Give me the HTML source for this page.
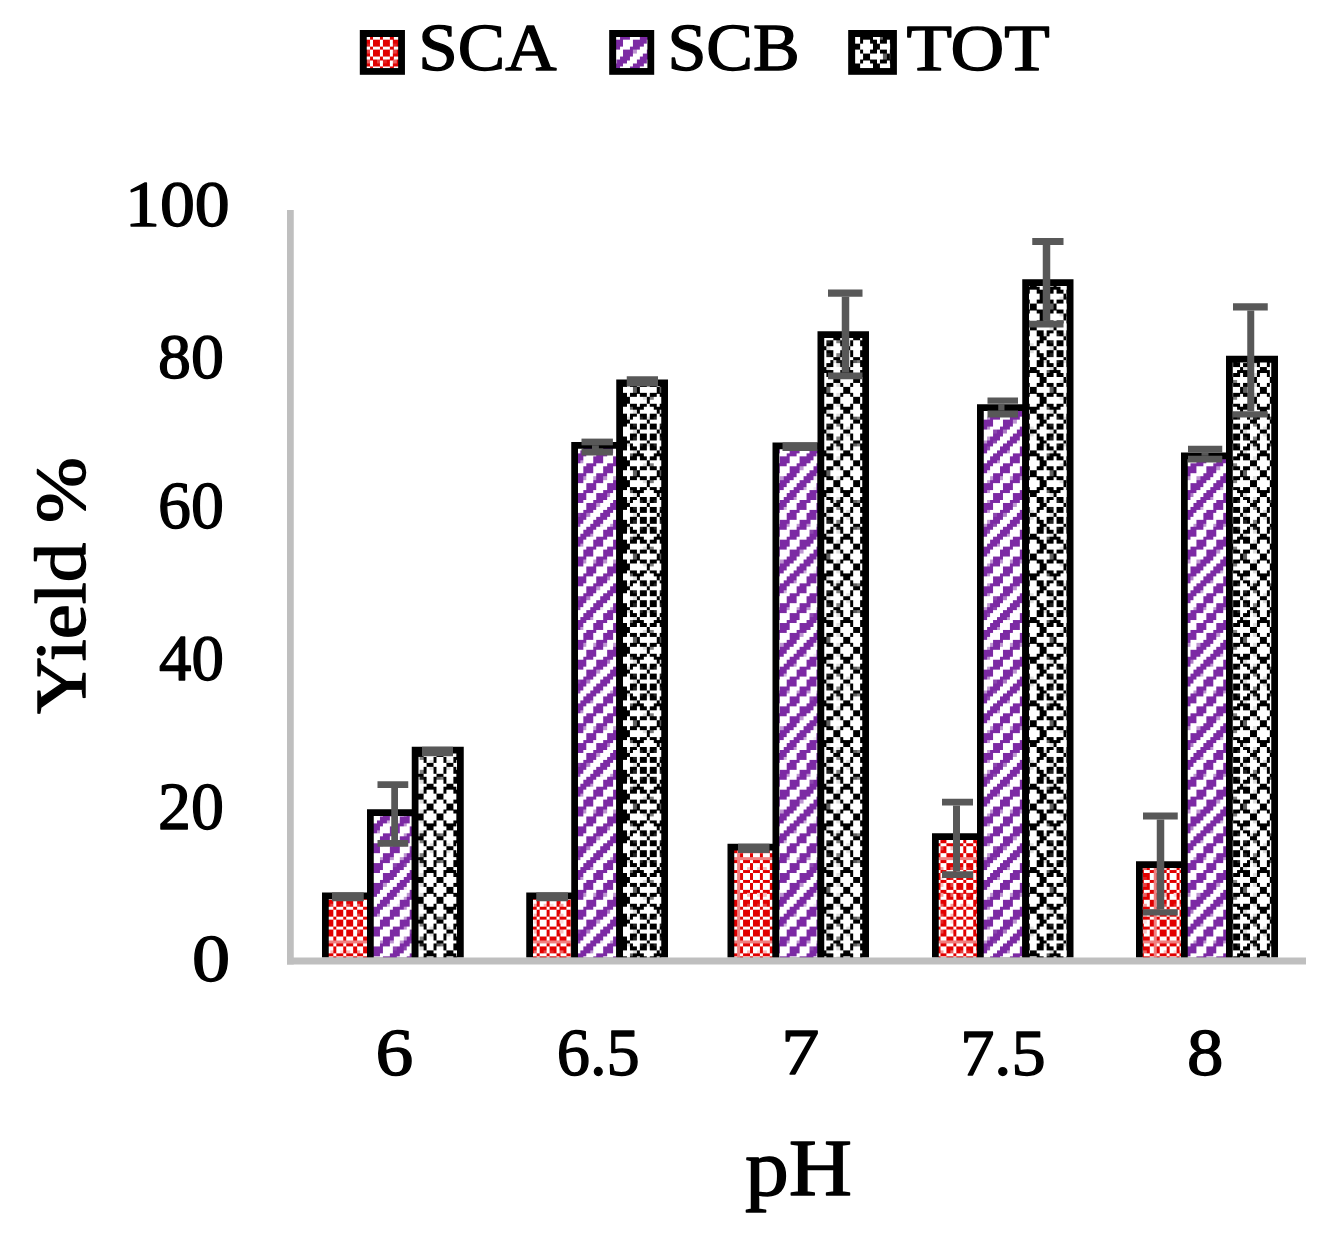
<!DOCTYPE html>
<html><head><meta charset="utf-8"><title>Yield vs pH</title>
<style>
html,body{margin:0;padding:0;background:#fff;}
body{width:1341px;height:1240px;overflow:hidden;font-family:"Liberation Serif",serif;}
svg{display:block;}
text{font-family:"Liberation Serif",serif;fill:#000;stroke:#000;stroke-width:1.35px;stroke-linejoin:round;}
</style></head><body>
<svg width="1341" height="1240" viewBox="0 0 1341 1240">
<defs>
<pattern id="pr" patternUnits="userSpaceOnUse" x="0" y="0" width="83.3333" height="83.3333">
<rect width="83.3333" height="83.3333" fill="#fff"/>
<g shape-rendering="crispEdges">
<rect x="0.00" y="0.00" width="3.38" height="3.38" fill="#e10000"/>
<rect x="10.00" y="0.00" width="3.38" height="3.38" fill="#e10000"/>
<rect x="20.00" y="0.00" width="3.38" height="3.38" fill="#e10000"/>
<rect x="30.00" y="0.00" width="6.72" height="3.38" fill="#e10000"/>
<rect x="40.00" y="0.00" width="6.72" height="3.38" fill="#e10000"/>
<rect x="50.00" y="0.00" width="6.72" height="3.38" fill="#e10000"/>
<rect x="60.00" y="0.00" width="6.72" height="3.38" fill="#e10000"/>
<rect x="70.00" y="0.00" width="3.38" height="3.38" fill="#f08080"/>
<rect x="73.33" y="0.00" width="3.38" height="3.38" fill="#e10000"/>
<rect x="3.33" y="3.33" width="6.72" height="3.38" fill="#e10000"/>
<rect x="13.33" y="3.33" width="6.72" height="3.38" fill="#e10000"/>
<rect x="23.33" y="3.33" width="3.38" height="3.38" fill="#e52020"/>
<rect x="26.67" y="3.33" width="3.38" height="3.38" fill="#e10000"/>
<rect x="33.33" y="3.33" width="3.38" height="3.38" fill="#fbdfdf"/>
<rect x="36.67" y="3.33" width="3.38" height="3.38" fill="#e10000"/>
<rect x="46.67" y="3.33" width="3.38" height="3.38" fill="#e10000"/>
<rect x="56.67" y="3.33" width="3.38" height="3.38" fill="#e10000"/>
<rect x="60.00" y="3.33" width="3.38" height="3.38" fill="#fbdfdf"/>
<rect x="66.67" y="3.33" width="3.38" height="3.38" fill="#e10000"/>
<rect x="70.00" y="3.33" width="3.38" height="3.38" fill="#f08080"/>
<rect x="76.67" y="3.33" width="6.72" height="3.38" fill="#e10000"/>
<rect x="3.33" y="6.67" width="6.72" height="3.38" fill="#e10000"/>
<rect x="13.33" y="6.67" width="6.72" height="3.38" fill="#e10000"/>
<rect x="23.33" y="6.67" width="6.72" height="3.38" fill="#e10000"/>
<rect x="36.67" y="6.67" width="3.38" height="3.38" fill="#e10000"/>
<rect x="46.67" y="6.67" width="3.38" height="3.38" fill="#e10000"/>
<rect x="56.67" y="6.67" width="3.38" height="3.38" fill="#e10000"/>
<rect x="66.67" y="6.67" width="3.38" height="3.38" fill="#e10000"/>
<rect x="70.00" y="6.67" width="3.38" height="3.38" fill="#f08080"/>
<rect x="76.67" y="6.67" width="6.72" height="3.38" fill="#e10000"/>
<rect x="0.00" y="10.00" width="3.38" height="3.38" fill="#e10000"/>
<rect x="10.00" y="10.00" width="3.38" height="3.38" fill="#e10000"/>
<rect x="20.00" y="10.00" width="3.38" height="3.38" fill="#e10000"/>
<rect x="30.00" y="10.00" width="6.72" height="3.38" fill="#e10000"/>
<rect x="40.00" y="10.00" width="6.72" height="3.38" fill="#e10000"/>
<rect x="50.00" y="10.00" width="6.72" height="3.38" fill="#e10000"/>
<rect x="60.00" y="10.00" width="6.72" height="3.38" fill="#e10000"/>
<rect x="70.00" y="10.00" width="3.38" height="3.38" fill="#f08080"/>
<rect x="73.33" y="10.00" width="3.38" height="3.38" fill="#e10000"/>
<rect x="3.33" y="13.33" width="6.72" height="3.38" fill="#e10000"/>
<rect x="13.33" y="13.33" width="6.72" height="3.38" fill="#e10000"/>
<rect x="23.33" y="13.33" width="3.38" height="3.38" fill="#e84040"/>
<rect x="26.67" y="13.33" width="3.38" height="3.38" fill="#e10000"/>
<rect x="33.33" y="13.33" width="3.38" height="3.38" fill="#f8bfbf"/>
<rect x="36.67" y="13.33" width="3.38" height="3.38" fill="#e10000"/>
<rect x="46.67" y="13.33" width="3.38" height="3.38" fill="#e10000"/>
<rect x="56.67" y="13.33" width="3.38" height="3.38" fill="#e10000"/>
<rect x="60.00" y="13.33" width="3.38" height="3.38" fill="#f8bfbf"/>
<rect x="66.67" y="13.33" width="3.38" height="3.38" fill="#e10000"/>
<rect x="70.00" y="13.33" width="3.38" height="3.38" fill="#f08080"/>
<rect x="76.67" y="13.33" width="6.72" height="3.38" fill="#e10000"/>
<rect x="3.33" y="16.67" width="6.72" height="3.38" fill="#e10000"/>
<rect x="13.33" y="16.67" width="6.72" height="3.38" fill="#e10000"/>
<rect x="23.33" y="16.67" width="6.72" height="3.38" fill="#e10000"/>
<rect x="36.67" y="16.67" width="3.38" height="3.38" fill="#e10000"/>
<rect x="46.67" y="16.67" width="3.38" height="3.38" fill="#e10000"/>
<rect x="56.67" y="16.67" width="3.38" height="3.38" fill="#e10000"/>
<rect x="66.67" y="16.67" width="3.38" height="3.38" fill="#e10000"/>
<rect x="70.00" y="16.67" width="3.38" height="3.38" fill="#f08080"/>
<rect x="76.67" y="16.67" width="6.72" height="3.38" fill="#e10000"/>
<rect x="0.00" y="20.00" width="3.38" height="3.38" fill="#e10000"/>
<rect x="10.00" y="20.00" width="3.38" height="3.38" fill="#e10000"/>
<rect x="20.00" y="20.00" width="3.38" height="3.38" fill="#e10000"/>
<rect x="30.00" y="20.00" width="6.72" height="3.38" fill="#e10000"/>
<rect x="40.00" y="20.00" width="6.72" height="3.38" fill="#e10000"/>
<rect x="50.00" y="20.00" width="6.72" height="3.38" fill="#e10000"/>
<rect x="60.00" y="20.00" width="6.72" height="3.38" fill="#e10000"/>
<rect x="70.00" y="20.00" width="3.38" height="3.38" fill="#f08080"/>
<rect x="73.33" y="20.00" width="3.38" height="3.38" fill="#e10000"/>
<rect x="0.00" y="23.33" width="83.38" height="3.38" fill="#f08080"/>
<rect x="3.33" y="26.67" width="6.72" height="3.38" fill="#e10000"/>
<rect x="13.33" y="26.67" width="6.72" height="3.38" fill="#e10000"/>
<rect x="23.33" y="26.67" width="6.72" height="3.38" fill="#e10000"/>
<rect x="36.67" y="26.67" width="3.38" height="3.38" fill="#e10000"/>
<rect x="46.67" y="26.67" width="3.38" height="3.38" fill="#e10000"/>
<rect x="56.67" y="26.67" width="3.38" height="3.38" fill="#e10000"/>
<rect x="66.67" y="26.67" width="3.38" height="3.38" fill="#e10000"/>
<rect x="70.00" y="26.67" width="3.38" height="3.38" fill="#f08080"/>
<rect x="76.67" y="26.67" width="6.72" height="3.38" fill="#e10000"/>
<rect x="0.00" y="30.00" width="3.38" height="3.38" fill="#e10000"/>
<rect x="10.00" y="30.00" width="3.38" height="3.38" fill="#e10000"/>
<rect x="20.00" y="30.00" width="3.38" height="3.38" fill="#e10000"/>
<rect x="30.00" y="30.00" width="6.72" height="3.38" fill="#e10000"/>
<rect x="40.00" y="30.00" width="6.72" height="3.38" fill="#e10000"/>
<rect x="50.00" y="30.00" width="6.72" height="3.38" fill="#e10000"/>
<rect x="60.00" y="30.00" width="6.72" height="3.38" fill="#e10000"/>
<rect x="70.00" y="30.00" width="3.38" height="3.38" fill="#f08080"/>
<rect x="73.33" y="30.00" width="3.38" height="3.38" fill="#e10000"/>
<rect x="0.00" y="33.33" width="3.38" height="3.38" fill="#e10000"/>
<rect x="6.67" y="33.33" width="3.38" height="3.38" fill="#fbdfdf"/>
<rect x="10.00" y="33.33" width="3.38" height="3.38" fill="#e10000"/>
<rect x="13.33" y="33.33" width="3.38" height="3.38" fill="#f8bfbf"/>
<rect x="20.00" y="33.33" width="3.38" height="3.38" fill="#e10000"/>
<rect x="23.33" y="33.33" width="3.38" height="3.38" fill="#f49f9f"/>
<rect x="30.00" y="33.33" width="3.38" height="3.38" fill="#e10000"/>
<rect x="33.33" y="33.33" width="3.38" height="3.38" fill="#ec6060"/>
<rect x="40.00" y="33.33" width="3.38" height="3.38" fill="#e10000"/>
<rect x="43.33" y="33.33" width="3.38" height="3.38" fill="#e84040"/>
<rect x="50.00" y="33.33" width="3.38" height="3.38" fill="#e52020"/>
<rect x="53.33" y="33.33" width="3.38" height="3.38" fill="#e10000"/>
<rect x="60.00" y="33.33" width="3.38" height="3.38" fill="#ec6060"/>
<rect x="63.33" y="33.33" width="3.38" height="3.38" fill="#e10000"/>
<rect x="70.00" y="33.33" width="3.38" height="3.38" fill="#f08080"/>
<rect x="73.33" y="33.33" width="3.38" height="3.38" fill="#e10000"/>
<rect x="80.00" y="33.33" width="3.38" height="3.38" fill="#f8bfbf"/>
<rect x="3.33" y="36.67" width="6.72" height="3.38" fill="#e10000"/>
<rect x="13.33" y="36.67" width="6.72" height="3.38" fill="#e10000"/>
<rect x="23.33" y="36.67" width="6.72" height="3.38" fill="#e10000"/>
<rect x="36.67" y="36.67" width="3.38" height="3.38" fill="#e10000"/>
<rect x="46.67" y="36.67" width="3.38" height="3.38" fill="#e10000"/>
<rect x="56.67" y="36.67" width="3.38" height="3.38" fill="#e10000"/>
<rect x="66.67" y="36.67" width="3.38" height="3.38" fill="#e10000"/>
<rect x="70.00" y="36.67" width="3.38" height="3.38" fill="#f08080"/>
<rect x="76.67" y="36.67" width="6.72" height="3.38" fill="#e10000"/>
<rect x="0.00" y="40.00" width="3.38" height="3.38" fill="#e10000"/>
<rect x="10.00" y="40.00" width="3.38" height="3.38" fill="#e10000"/>
<rect x="20.00" y="40.00" width="3.38" height="3.38" fill="#e10000"/>
<rect x="30.00" y="40.00" width="6.72" height="3.38" fill="#e10000"/>
<rect x="40.00" y="40.00" width="6.72" height="3.38" fill="#e10000"/>
<rect x="50.00" y="40.00" width="6.72" height="3.38" fill="#e10000"/>
<rect x="60.00" y="40.00" width="6.72" height="3.38" fill="#e10000"/>
<rect x="70.00" y="40.00" width="3.38" height="3.38" fill="#f08080"/>
<rect x="73.33" y="40.00" width="3.38" height="3.38" fill="#e10000"/>
<rect x="0.00" y="43.33" width="3.38" height="3.38" fill="#e10000"/>
<rect x="10.00" y="43.33" width="3.38" height="3.38" fill="#e10000"/>
<rect x="20.00" y="43.33" width="3.38" height="3.38" fill="#e10000"/>
<rect x="23.33" y="43.33" width="3.38" height="3.38" fill="#fbdfdf"/>
<rect x="30.00" y="43.33" width="3.38" height="3.38" fill="#e10000"/>
<rect x="33.33" y="43.33" width="3.38" height="3.38" fill="#e52020"/>
<rect x="40.00" y="43.33" width="6.72" height="3.38" fill="#e10000"/>
<rect x="50.00" y="43.33" width="6.72" height="3.38" fill="#e10000"/>
<rect x="60.00" y="43.33" width="3.38" height="3.38" fill="#e52020"/>
<rect x="63.33" y="43.33" width="3.38" height="3.38" fill="#e10000"/>
<rect x="70.00" y="43.33" width="3.38" height="3.38" fill="#f08080"/>
<rect x="73.33" y="43.33" width="3.38" height="3.38" fill="#e10000"/>
<rect x="3.33" y="46.67" width="6.72" height="3.38" fill="#e10000"/>
<rect x="13.33" y="46.67" width="6.72" height="3.38" fill="#e10000"/>
<rect x="23.33" y="46.67" width="6.72" height="3.38" fill="#e10000"/>
<rect x="36.67" y="46.67" width="3.38" height="3.38" fill="#e10000"/>
<rect x="46.67" y="46.67" width="3.38" height="3.38" fill="#e10000"/>
<rect x="56.67" y="46.67" width="3.38" height="3.38" fill="#e10000"/>
<rect x="66.67" y="46.67" width="3.38" height="3.38" fill="#e10000"/>
<rect x="70.00" y="46.67" width="3.38" height="3.38" fill="#f08080"/>
<rect x="76.67" y="46.67" width="6.72" height="3.38" fill="#e10000"/>
<rect x="0.00" y="50.00" width="3.38" height="3.38" fill="#e10000"/>
<rect x="10.00" y="50.00" width="3.38" height="3.38" fill="#e10000"/>
<rect x="20.00" y="50.00" width="3.38" height="3.38" fill="#e10000"/>
<rect x="23.33" y="50.00" width="3.38" height="3.38" fill="#f8bfbf"/>
<rect x="30.00" y="50.00" width="3.38" height="3.38" fill="#e10000"/>
<rect x="33.33" y="50.00" width="3.38" height="3.38" fill="#e84040"/>
<rect x="40.00" y="50.00" width="6.72" height="3.38" fill="#e10000"/>
<rect x="50.00" y="50.00" width="6.72" height="3.38" fill="#e10000"/>
<rect x="60.00" y="50.00" width="3.38" height="3.38" fill="#e84040"/>
<rect x="63.33" y="50.00" width="3.38" height="3.38" fill="#e10000"/>
<rect x="70.00" y="50.00" width="3.38" height="3.38" fill="#f08080"/>
<rect x="73.33" y="50.00" width="3.38" height="3.38" fill="#e10000"/>
<rect x="0.00" y="53.33" width="3.38" height="3.38" fill="#e10000"/>
<rect x="10.00" y="53.33" width="3.38" height="3.38" fill="#e10000"/>
<rect x="20.00" y="53.33" width="3.38" height="3.38" fill="#e10000"/>
<rect x="30.00" y="53.33" width="6.72" height="3.38" fill="#e10000"/>
<rect x="40.00" y="53.33" width="6.72" height="3.38" fill="#e10000"/>
<rect x="50.00" y="53.33" width="6.72" height="3.38" fill="#e10000"/>
<rect x="60.00" y="53.33" width="6.72" height="3.38" fill="#e10000"/>
<rect x="70.00" y="53.33" width="3.38" height="3.38" fill="#f08080"/>
<rect x="73.33" y="53.33" width="3.38" height="3.38" fill="#e10000"/>
<rect x="3.33" y="56.67" width="6.72" height="3.38" fill="#e10000"/>
<rect x="13.33" y="56.67" width="6.72" height="3.38" fill="#e10000"/>
<rect x="23.33" y="56.67" width="6.72" height="3.38" fill="#e10000"/>
<rect x="36.67" y="56.67" width="3.38" height="3.38" fill="#e10000"/>
<rect x="46.67" y="56.67" width="3.38" height="3.38" fill="#e10000"/>
<rect x="56.67" y="56.67" width="3.38" height="3.38" fill="#e10000"/>
<rect x="66.67" y="56.67" width="3.38" height="3.38" fill="#e10000"/>
<rect x="70.00" y="56.67" width="3.38" height="3.38" fill="#f08080"/>
<rect x="76.67" y="56.67" width="6.72" height="3.38" fill="#e10000"/>
<rect x="0.00" y="60.00" width="3.38" height="3.38" fill="#e10000"/>
<rect x="6.67" y="60.00" width="3.38" height="3.38" fill="#fbdfdf"/>
<rect x="10.00" y="60.00" width="3.38" height="3.38" fill="#e10000"/>
<rect x="13.33" y="60.00" width="3.38" height="3.38" fill="#f8bfbf"/>
<rect x="20.00" y="60.00" width="3.38" height="3.38" fill="#e10000"/>
<rect x="23.33" y="60.00" width="3.38" height="3.38" fill="#f49f9f"/>
<rect x="30.00" y="60.00" width="3.38" height="3.38" fill="#e10000"/>
<rect x="33.33" y="60.00" width="3.38" height="3.38" fill="#ec6060"/>
<rect x="40.00" y="60.00" width="3.38" height="3.38" fill="#e10000"/>
<rect x="43.33" y="60.00" width="3.38" height="3.38" fill="#e84040"/>
<rect x="50.00" y="60.00" width="3.38" height="3.38" fill="#e52020"/>
<rect x="53.33" y="60.00" width="3.38" height="3.38" fill="#e10000"/>
<rect x="60.00" y="60.00" width="3.38" height="3.38" fill="#ec6060"/>
<rect x="63.33" y="60.00" width="3.38" height="3.38" fill="#e10000"/>
<rect x="70.00" y="60.00" width="3.38" height="3.38" fill="#f08080"/>
<rect x="73.33" y="60.00" width="3.38" height="3.38" fill="#e10000"/>
<rect x="80.00" y="60.00" width="3.38" height="3.38" fill="#f8bfbf"/>
<rect x="0.00" y="63.33" width="3.38" height="3.38" fill="#e10000"/>
<rect x="10.00" y="63.33" width="3.38" height="3.38" fill="#e10000"/>
<rect x="20.00" y="63.33" width="3.38" height="3.38" fill="#e10000"/>
<rect x="30.00" y="63.33" width="6.72" height="3.38" fill="#e10000"/>
<rect x="40.00" y="63.33" width="6.72" height="3.38" fill="#e10000"/>
<rect x="50.00" y="63.33" width="6.72" height="3.38" fill="#e10000"/>
<rect x="60.00" y="63.33" width="6.72" height="3.38" fill="#e10000"/>
<rect x="70.00" y="63.33" width="3.38" height="3.38" fill="#f08080"/>
<rect x="73.33" y="63.33" width="3.38" height="3.38" fill="#e10000"/>
<rect x="3.33" y="66.67" width="6.72" height="3.38" fill="#e10000"/>
<rect x="13.33" y="66.67" width="6.72" height="3.38" fill="#e10000"/>
<rect x="23.33" y="66.67" width="6.72" height="3.38" fill="#e10000"/>
<rect x="36.67" y="66.67" width="3.38" height="3.38" fill="#e10000"/>
<rect x="46.67" y="66.67" width="3.38" height="3.38" fill="#e10000"/>
<rect x="56.67" y="66.67" width="3.38" height="3.38" fill="#e10000"/>
<rect x="66.67" y="66.67" width="3.38" height="3.38" fill="#e10000"/>
<rect x="70.00" y="66.67" width="3.38" height="3.38" fill="#f08080"/>
<rect x="76.67" y="66.67" width="6.72" height="3.38" fill="#e10000"/>
<rect x="3.33" y="70.00" width="3.38" height="3.38" fill="#e10000"/>
<rect x="6.67" y="70.00" width="3.38" height="3.38" fill="#e52020"/>
<rect x="13.33" y="70.00" width="3.38" height="3.38" fill="#e84040"/>
<rect x="16.67" y="70.00" width="3.38" height="3.38" fill="#e10000"/>
<rect x="23.33" y="70.00" width="3.38" height="3.38" fill="#ec6060"/>
<rect x="26.67" y="70.00" width="3.38" height="3.38" fill="#e10000"/>
<rect x="33.33" y="70.00" width="3.38" height="3.38" fill="#f49f9f"/>
<rect x="36.67" y="70.00" width="3.38" height="3.38" fill="#e10000"/>
<rect x="43.33" y="70.00" width="3.38" height="3.38" fill="#f8bfbf"/>
<rect x="46.67" y="70.00" width="3.38" height="3.38" fill="#e10000"/>
<rect x="50.00" y="70.00" width="3.38" height="3.38" fill="#fbdfdf"/>
<rect x="56.67" y="70.00" width="3.38" height="3.38" fill="#e10000"/>
<rect x="60.00" y="70.00" width="3.38" height="3.38" fill="#f49f9f"/>
<rect x="66.67" y="70.00" width="3.38" height="3.38" fill="#e10000"/>
<rect x="70.00" y="70.00" width="3.38" height="3.38" fill="#f08080"/>
<rect x="76.67" y="70.00" width="3.38" height="3.38" fill="#e10000"/>
<rect x="80.00" y="70.00" width="3.38" height="3.38" fill="#e84040"/>
<rect x="0.00" y="73.33" width="3.38" height="3.38" fill="#e10000"/>
<rect x="10.00" y="73.33" width="3.38" height="3.38" fill="#e10000"/>
<rect x="20.00" y="73.33" width="3.38" height="3.38" fill="#e10000"/>
<rect x="30.00" y="73.33" width="6.72" height="3.38" fill="#e10000"/>
<rect x="40.00" y="73.33" width="6.72" height="3.38" fill="#e10000"/>
<rect x="50.00" y="73.33" width="6.72" height="3.38" fill="#e10000"/>
<rect x="60.00" y="73.33" width="6.72" height="3.38" fill="#e10000"/>
<rect x="70.00" y="73.33" width="3.38" height="3.38" fill="#f08080"/>
<rect x="73.33" y="73.33" width="3.38" height="3.38" fill="#e10000"/>
<rect x="3.33" y="76.67" width="6.72" height="3.38" fill="#e10000"/>
<rect x="13.33" y="76.67" width="6.72" height="3.38" fill="#e10000"/>
<rect x="23.33" y="76.67" width="6.72" height="3.38" fill="#e10000"/>
<rect x="36.67" y="76.67" width="3.38" height="3.38" fill="#e10000"/>
<rect x="46.67" y="76.67" width="3.38" height="3.38" fill="#e10000"/>
<rect x="56.67" y="76.67" width="3.38" height="3.38" fill="#e10000"/>
<rect x="66.67" y="76.67" width="3.38" height="3.38" fill="#e10000"/>
<rect x="70.00" y="76.67" width="3.38" height="3.38" fill="#f08080"/>
<rect x="76.67" y="76.67" width="6.72" height="3.38" fill="#e10000"/>
<rect x="3.33" y="80.00" width="6.72" height="3.38" fill="#e10000"/>
<rect x="13.33" y="80.00" width="6.72" height="3.38" fill="#e10000"/>
<rect x="23.33" y="80.00" width="3.38" height="3.38" fill="#e84040"/>
<rect x="26.67" y="80.00" width="3.38" height="3.38" fill="#e10000"/>
<rect x="33.33" y="80.00" width="3.38" height="3.38" fill="#f8bfbf"/>
<rect x="36.67" y="80.00" width="3.38" height="3.38" fill="#e10000"/>
<rect x="46.67" y="80.00" width="3.38" height="3.38" fill="#e10000"/>
<rect x="56.67" y="80.00" width="3.38" height="3.38" fill="#e10000"/>
<rect x="60.00" y="80.00" width="3.38" height="3.38" fill="#f8bfbf"/>
<rect x="66.67" y="80.00" width="3.38" height="3.38" fill="#e10000"/>
<rect x="70.00" y="80.00" width="3.38" height="3.38" fill="#f08080"/>
<rect x="76.67" y="80.00" width="6.72" height="3.38" fill="#e10000"/>
</g></pattern>
<pattern id="pp" patternUnits="userSpaceOnUse" x="0" y="0" width="83.3333" height="83.3333">
<rect width="83.3333" height="83.3333" fill="#fff"/>
<g shape-rendering="crispEdges">
<rect x="10.00" y="0.00" width="10.05" height="3.38" fill="#7c2ba4"/>
<rect x="30.00" y="0.00" width="10.05" height="3.38" fill="#7c2ba4"/>
<rect x="50.00" y="0.00" width="10.05" height="3.38" fill="#7c2ba4"/>
<rect x="70.00" y="0.00" width="3.38" height="3.38" fill="#be95d2"/>
<rect x="73.33" y="0.00" width="10.05" height="3.38" fill="#7c2ba4"/>
<rect x="3.33" y="3.33" width="10.05" height="3.38" fill="#7c2ba4"/>
<rect x="13.33" y="3.33" width="3.38" height="3.38" fill="#be95d2"/>
<rect x="26.67" y="3.33" width="10.05" height="3.38" fill="#7c2ba4"/>
<rect x="46.67" y="3.33" width="10.05" height="3.38" fill="#7c2ba4"/>
<rect x="66.67" y="3.33" width="10.05" height="3.38" fill="#7c2ba4"/>
<rect x="3.33" y="6.67" width="10.05" height="3.38" fill="#7c2ba4"/>
<rect x="23.33" y="6.67" width="10.05" height="3.38" fill="#7c2ba4"/>
<rect x="33.33" y="6.67" width="3.38" height="3.38" fill="#ceb0dd"/>
<rect x="46.67" y="6.67" width="10.05" height="3.38" fill="#7c2ba4"/>
<rect x="66.67" y="6.67" width="10.05" height="3.38" fill="#7c2ba4"/>
<rect x="0.00" y="10.00" width="10.05" height="3.38" fill="#7c2ba4"/>
<rect x="20.00" y="10.00" width="10.05" height="3.38" fill="#7c2ba4"/>
<rect x="40.00" y="10.00" width="10.05" height="3.38" fill="#7c2ba4"/>
<rect x="60.00" y="10.00" width="10.05" height="3.38" fill="#7c2ba4"/>
<rect x="70.00" y="10.00" width="3.38" height="3.38" fill="#be95d2"/>
<rect x="0.00" y="13.33" width="3.38" height="3.38" fill="#7c2ba4"/>
<rect x="3.33" y="13.33" width="3.38" height="3.38" fill="#ad7ac6"/>
<rect x="16.67" y="13.33" width="10.05" height="3.38" fill="#7c2ba4"/>
<rect x="36.67" y="13.33" width="10.05" height="3.38" fill="#7c2ba4"/>
<rect x="56.67" y="13.33" width="10.05" height="3.38" fill="#7c2ba4"/>
<rect x="76.67" y="13.33" width="3.38" height="3.38" fill="#8c46af"/>
<rect x="80.00" y="13.33" width="3.38" height="3.38" fill="#7c2ba4"/>
<rect x="0.00" y="16.67" width="3.38" height="3.38" fill="#7c2ba4"/>
<rect x="13.33" y="16.67" width="10.05" height="3.38" fill="#7c2ba4"/>
<rect x="36.67" y="16.67" width="10.05" height="3.38" fill="#7c2ba4"/>
<rect x="56.67" y="16.67" width="10.05" height="3.38" fill="#7c2ba4"/>
<rect x="76.67" y="16.67" width="6.72" height="3.38" fill="#7c2ba4"/>
<rect x="10.00" y="20.00" width="10.05" height="3.38" fill="#7c2ba4"/>
<rect x="30.00" y="20.00" width="10.05" height="3.38" fill="#7c2ba4"/>
<rect x="50.00" y="20.00" width="10.05" height="3.38" fill="#7c2ba4"/>
<rect x="70.00" y="20.00" width="3.38" height="3.38" fill="#be95d2"/>
<rect x="73.33" y="20.00" width="10.05" height="3.38" fill="#7c2ba4"/>
<rect x="6.67" y="23.33" width="10.05" height="3.38" fill="#7c2ba4"/>
<rect x="16.67" y="23.33" width="3.38" height="3.38" fill="#efe4f4"/>
<rect x="26.67" y="23.33" width="3.38" height="3.38" fill="#be95d2"/>
<rect x="30.00" y="23.33" width="6.72" height="3.38" fill="#7c2ba4"/>
<rect x="36.67" y="23.33" width="3.38" height="3.38" fill="#be95d2"/>
<rect x="46.67" y="23.33" width="3.38" height="3.38" fill="#be95d2"/>
<rect x="50.00" y="23.33" width="6.72" height="3.38" fill="#7c2ba4"/>
<rect x="56.67" y="23.33" width="3.38" height="3.38" fill="#be95d2"/>
<rect x="66.67" y="23.33" width="3.38" height="3.38" fill="#be95d2"/>
<rect x="70.00" y="23.33" width="6.72" height="3.38" fill="#7c2ba4"/>
<rect x="76.67" y="23.33" width="3.38" height="3.38" fill="#8c46af"/>
<rect x="3.33" y="26.67" width="10.05" height="3.38" fill="#7c2ba4"/>
<rect x="23.33" y="26.67" width="13.38" height="3.38" fill="#7c2ba4"/>
<rect x="46.67" y="26.67" width="10.05" height="3.38" fill="#7c2ba4"/>
<rect x="66.67" y="26.67" width="10.05" height="3.38" fill="#7c2ba4"/>
<rect x="0.00" y="30.00" width="10.05" height="3.38" fill="#7c2ba4"/>
<rect x="20.00" y="30.00" width="10.05" height="3.38" fill="#7c2ba4"/>
<rect x="40.00" y="30.00" width="10.05" height="3.38" fill="#7c2ba4"/>
<rect x="60.00" y="30.00" width="3.38" height="3.38" fill="#8c46af"/>
<rect x="63.33" y="30.00" width="6.72" height="3.38" fill="#7c2ba4"/>
<rect x="70.00" y="30.00" width="3.38" height="3.38" fill="#8c46af"/>
<rect x="0.00" y="33.33" width="6.72" height="3.38" fill="#7c2ba4"/>
<rect x="6.67" y="33.33" width="3.38" height="3.38" fill="#be95d2"/>
<rect x="20.00" y="33.33" width="10.05" height="3.38" fill="#7c2ba4"/>
<rect x="40.00" y="33.33" width="10.05" height="3.38" fill="#7c2ba4"/>
<rect x="60.00" y="33.33" width="10.05" height="3.38" fill="#7c2ba4"/>
<rect x="80.00" y="33.33" width="3.38" height="3.38" fill="#7c2ba4"/>
<rect x="0.00" y="36.67" width="3.38" height="3.38" fill="#7c2ba4"/>
<rect x="13.33" y="36.67" width="10.05" height="3.38" fill="#7c2ba4"/>
<rect x="36.67" y="36.67" width="10.05" height="3.38" fill="#7c2ba4"/>
<rect x="56.67" y="36.67" width="10.05" height="3.38" fill="#7c2ba4"/>
<rect x="76.67" y="36.67" width="6.72" height="3.38" fill="#7c2ba4"/>
<rect x="10.00" y="40.00" width="10.05" height="3.38" fill="#7c2ba4"/>
<rect x="30.00" y="40.00" width="10.05" height="3.38" fill="#7c2ba4"/>
<rect x="50.00" y="40.00" width="13.38" height="3.38" fill="#7c2ba4"/>
<rect x="73.33" y="40.00" width="10.05" height="3.38" fill="#7c2ba4"/>
<rect x="10.00" y="43.33" width="10.05" height="3.38" fill="#7c2ba4"/>
<rect x="30.00" y="43.33" width="10.05" height="3.38" fill="#7c2ba4"/>
<rect x="50.00" y="43.33" width="10.05" height="3.38" fill="#7c2ba4"/>
<rect x="70.00" y="43.33" width="10.05" height="3.38" fill="#7c2ba4"/>
<rect x="80.00" y="43.33" width="3.38" height="3.38" fill="#be95d2"/>
<rect x="3.33" y="46.67" width="10.05" height="3.38" fill="#7c2ba4"/>
<rect x="23.33" y="46.67" width="13.38" height="3.38" fill="#7c2ba4"/>
<rect x="46.67" y="46.67" width="10.05" height="3.38" fill="#7c2ba4"/>
<rect x="66.67" y="46.67" width="10.05" height="3.38" fill="#7c2ba4"/>
<rect x="0.00" y="50.00" width="10.05" height="3.38" fill="#7c2ba4"/>
<rect x="20.00" y="50.00" width="10.05" height="3.38" fill="#7c2ba4"/>
<rect x="40.00" y="50.00" width="10.05" height="3.38" fill="#7c2ba4"/>
<rect x="50.00" y="50.00" width="3.38" height="3.38" fill="#be95d2"/>
<rect x="63.33" y="50.00" width="10.05" height="3.38" fill="#7c2ba4"/>
<rect x="0.00" y="53.33" width="10.05" height="3.38" fill="#7c2ba4"/>
<rect x="20.00" y="53.33" width="10.05" height="3.38" fill="#7c2ba4"/>
<rect x="40.00" y="53.33" width="10.05" height="3.38" fill="#7c2ba4"/>
<rect x="60.00" y="53.33" width="10.05" height="3.38" fill="#7c2ba4"/>
<rect x="70.00" y="53.33" width="3.38" height="3.38" fill="#efe4f4"/>
<rect x="0.00" y="56.67" width="3.38" height="3.38" fill="#7c2ba4"/>
<rect x="13.33" y="56.67" width="10.05" height="3.38" fill="#7c2ba4"/>
<rect x="36.67" y="56.67" width="10.05" height="3.38" fill="#7c2ba4"/>
<rect x="56.67" y="56.67" width="10.05" height="3.38" fill="#7c2ba4"/>
<rect x="76.67" y="56.67" width="6.72" height="3.38" fill="#7c2ba4"/>
<rect x="0.00" y="60.00" width="3.38" height="3.38" fill="#be95d2"/>
<rect x="10.00" y="60.00" width="3.38" height="3.38" fill="#be95d2"/>
<rect x="13.33" y="60.00" width="6.72" height="3.38" fill="#7c2ba4"/>
<rect x="20.00" y="60.00" width="3.38" height="3.38" fill="#be95d2"/>
<rect x="30.00" y="60.00" width="3.38" height="3.38" fill="#be95d2"/>
<rect x="33.33" y="60.00" width="10.05" height="3.38" fill="#7c2ba4"/>
<rect x="53.33" y="60.00" width="10.05" height="3.38" fill="#7c2ba4"/>
<rect x="63.33" y="60.00" width="3.38" height="3.38" fill="#efe4f4"/>
<rect x="73.33" y="60.00" width="3.38" height="3.38" fill="#be95d2"/>
<rect x="76.67" y="60.00" width="6.72" height="3.38" fill="#7c2ba4"/>
<rect x="10.00" y="63.33" width="10.05" height="3.38" fill="#7c2ba4"/>
<rect x="30.00" y="63.33" width="10.05" height="3.38" fill="#7c2ba4"/>
<rect x="50.00" y="63.33" width="10.05" height="3.38" fill="#7c2ba4"/>
<rect x="70.00" y="63.33" width="3.38" height="3.38" fill="#be95d2"/>
<rect x="73.33" y="63.33" width="10.05" height="3.38" fill="#7c2ba4"/>
<rect x="3.33" y="66.67" width="10.05" height="3.38" fill="#7c2ba4"/>
<rect x="23.33" y="66.67" width="13.38" height="3.38" fill="#7c2ba4"/>
<rect x="46.67" y="66.67" width="10.05" height="3.38" fill="#7c2ba4"/>
<rect x="66.67" y="66.67" width="10.05" height="3.38" fill="#7c2ba4"/>
<rect x="3.33" y="70.00" width="10.05" height="3.38" fill="#7c2ba4"/>
<rect x="23.33" y="70.00" width="10.05" height="3.38" fill="#7c2ba4"/>
<rect x="43.33" y="70.00" width="10.05" height="3.38" fill="#7c2ba4"/>
<rect x="53.33" y="70.00" width="3.38" height="3.38" fill="#ceb0dd"/>
<rect x="63.33" y="70.00" width="3.38" height="3.38" fill="#efe4f4"/>
<rect x="66.67" y="70.00" width="10.05" height="3.38" fill="#7c2ba4"/>
<rect x="0.00" y="73.33" width="10.05" height="3.38" fill="#7c2ba4"/>
<rect x="20.00" y="73.33" width="10.05" height="3.38" fill="#7c2ba4"/>
<rect x="40.00" y="73.33" width="10.05" height="3.38" fill="#7c2ba4"/>
<rect x="60.00" y="73.33" width="10.05" height="3.38" fill="#7c2ba4"/>
<rect x="70.00" y="73.33" width="3.38" height="3.38" fill="#be95d2"/>
<rect x="0.00" y="76.67" width="3.38" height="3.38" fill="#7c2ba4"/>
<rect x="13.33" y="76.67" width="10.05" height="3.38" fill="#7c2ba4"/>
<rect x="23.33" y="76.67" width="3.38" height="3.38" fill="#ad7ac6"/>
<rect x="36.67" y="76.67" width="10.05" height="3.38" fill="#7c2ba4"/>
<rect x="56.67" y="76.67" width="10.05" height="3.38" fill="#7c2ba4"/>
<rect x="76.67" y="76.67" width="6.72" height="3.38" fill="#7c2ba4"/>
<rect x="0.00" y="80.00" width="3.38" height="3.38" fill="#7c2ba4"/>
<rect x="13.33" y="80.00" width="10.05" height="3.38" fill="#7c2ba4"/>
<rect x="33.33" y="80.00" width="10.05" height="3.38" fill="#7c2ba4"/>
<rect x="43.33" y="80.00" width="3.38" height="3.38" fill="#be95d2"/>
<rect x="56.67" y="80.00" width="10.05" height="3.38" fill="#7c2ba4"/>
<rect x="76.67" y="80.00" width="6.72" height="3.38" fill="#7c2ba4"/>
</g></pattern>
<pattern id="pt" patternUnits="userSpaceOnUse" x="0" y="0" width="83.3333" height="83.3333">
<rect width="83.3333" height="83.3333" fill="#fff"/>
<g shape-rendering="crispEdges">
<rect x="0.00" y="0.00" width="3.38" height="3.38" fill="#dfdfdf"/>
<rect x="3.33" y="0.00" width="3.38" height="3.38" fill="#202020"/>
<rect x="6.67" y="0.00" width="3.38" height="3.38" fill="#000000"/>
<rect x="16.67" y="0.00" width="3.38" height="3.38" fill="#000000"/>
<rect x="20.00" y="0.00" width="3.38" height="3.38" fill="#606060"/>
<rect x="23.33" y="0.00" width="3.38" height="3.38" fill="#808080"/>
<rect x="26.67" y="0.00" width="3.38" height="3.38" fill="#000000"/>
<rect x="36.67" y="0.00" width="6.72" height="3.38" fill="#000000"/>
<rect x="43.33" y="0.00" width="3.38" height="3.38" fill="#dfdfdf"/>
<rect x="46.67" y="0.00" width="3.38" height="3.38" fill="#000000"/>
<rect x="56.67" y="0.00" width="3.38" height="3.38" fill="#202020"/>
<rect x="60.00" y="0.00" width="3.38" height="3.38" fill="#000000"/>
<rect x="63.33" y="0.00" width="3.38" height="3.38" fill="#dfdfdf"/>
<rect x="66.67" y="0.00" width="3.38" height="3.38" fill="#000000"/>
<rect x="70.00" y="0.00" width="3.38" height="3.38" fill="#202020"/>
<rect x="80.00" y="0.00" width="3.38" height="3.38" fill="#000000"/>
<rect x="0.00" y="3.33" width="6.72" height="3.38" fill="#000000"/>
<rect x="20.00" y="3.33" width="6.72" height="3.38" fill="#000000"/>
<rect x="40.00" y="3.33" width="6.72" height="3.38" fill="#000000"/>
<rect x="63.33" y="3.33" width="3.38" height="3.38" fill="#000000"/>
<rect x="3.33" y="6.67" width="3.38" height="3.38" fill="#808080"/>
<rect x="6.67" y="6.67" width="3.38" height="3.38" fill="#000000"/>
<rect x="16.67" y="6.67" width="3.38" height="3.38" fill="#000000"/>
<rect x="26.67" y="6.67" width="3.38" height="3.38" fill="#000000"/>
<rect x="36.67" y="6.67" width="6.72" height="3.38" fill="#000000"/>
<rect x="46.67" y="6.67" width="3.38" height="3.38" fill="#000000"/>
<rect x="50.00" y="6.67" width="3.38" height="3.38" fill="#202020"/>
<rect x="56.67" y="6.67" width="6.72" height="3.38" fill="#000000"/>
<rect x="66.67" y="6.67" width="6.72" height="3.38" fill="#000000"/>
<rect x="76.67" y="6.67" width="3.38" height="3.38" fill="#202020"/>
<rect x="80.00" y="6.67" width="3.38" height="3.38" fill="#000000"/>
<rect x="6.67" y="10.00" width="3.38" height="3.38" fill="#000000"/>
<rect x="13.33" y="10.00" width="3.38" height="3.38" fill="#dfdfdf"/>
<rect x="16.67" y="10.00" width="3.38" height="3.38" fill="#000000"/>
<rect x="26.67" y="10.00" width="3.38" height="3.38" fill="#000000"/>
<rect x="30.00" y="10.00" width="3.38" height="3.38" fill="#dfdfdf"/>
<rect x="36.67" y="10.00" width="3.38" height="3.38" fill="#000000"/>
<rect x="46.67" y="10.00" width="6.72" height="3.38" fill="#000000"/>
<rect x="56.67" y="10.00" width="6.72" height="3.38" fill="#000000"/>
<rect x="66.67" y="10.00" width="6.72" height="3.38" fill="#000000"/>
<rect x="76.67" y="10.00" width="6.72" height="3.38" fill="#000000"/>
<rect x="10.00" y="13.33" width="6.72" height="3.38" fill="#000000"/>
<rect x="30.00" y="13.33" width="6.72" height="3.38" fill="#000000"/>
<rect x="50.00" y="13.33" width="3.38" height="3.38" fill="#dfdfdf"/>
<rect x="53.33" y="13.33" width="3.38" height="3.38" fill="#000000"/>
<rect x="73.33" y="13.33" width="3.38" height="3.38" fill="#000000"/>
<rect x="76.67" y="13.33" width="3.38" height="3.38" fill="#dfdfdf"/>
<rect x="6.67" y="16.67" width="3.38" height="3.38" fill="#000000"/>
<rect x="13.33" y="16.67" width="3.38" height="3.38" fill="#dfdfdf"/>
<rect x="16.67" y="16.67" width="3.38" height="3.38" fill="#000000"/>
<rect x="26.67" y="16.67" width="3.38" height="3.38" fill="#000000"/>
<rect x="30.00" y="16.67" width="3.38" height="3.38" fill="#dfdfdf"/>
<rect x="36.67" y="16.67" width="3.38" height="3.38" fill="#000000"/>
<rect x="46.67" y="16.67" width="6.72" height="3.38" fill="#000000"/>
<rect x="56.67" y="16.67" width="6.72" height="3.38" fill="#000000"/>
<rect x="66.67" y="16.67" width="6.72" height="3.38" fill="#000000"/>
<rect x="76.67" y="16.67" width="6.72" height="3.38" fill="#000000"/>
<rect x="3.33" y="20.00" width="3.38" height="3.38" fill="#808080"/>
<rect x="6.67" y="20.00" width="3.38" height="3.38" fill="#000000"/>
<rect x="16.67" y="20.00" width="3.38" height="3.38" fill="#000000"/>
<rect x="26.67" y="20.00" width="3.38" height="3.38" fill="#000000"/>
<rect x="36.67" y="20.00" width="6.72" height="3.38" fill="#000000"/>
<rect x="46.67" y="20.00" width="3.38" height="3.38" fill="#000000"/>
<rect x="50.00" y="20.00" width="3.38" height="3.38" fill="#202020"/>
<rect x="56.67" y="20.00" width="6.72" height="3.38" fill="#000000"/>
<rect x="66.67" y="20.00" width="6.72" height="3.38" fill="#000000"/>
<rect x="76.67" y="20.00" width="3.38" height="3.38" fill="#202020"/>
<rect x="80.00" y="20.00" width="3.38" height="3.38" fill="#000000"/>
<rect x="0.00" y="23.33" width="6.72" height="3.38" fill="#000000"/>
<rect x="20.00" y="23.33" width="6.72" height="3.38" fill="#000000"/>
<rect x="40.00" y="23.33" width="6.72" height="3.38" fill="#000000"/>
<rect x="63.33" y="23.33" width="3.38" height="3.38" fill="#000000"/>
<rect x="0.00" y="26.67" width="3.38" height="3.38" fill="#dfdfdf"/>
<rect x="3.33" y="26.67" width="3.38" height="3.38" fill="#202020"/>
<rect x="6.67" y="26.67" width="3.38" height="3.38" fill="#000000"/>
<rect x="16.67" y="26.67" width="3.38" height="3.38" fill="#000000"/>
<rect x="20.00" y="26.67" width="3.38" height="3.38" fill="#606060"/>
<rect x="23.33" y="26.67" width="3.38" height="3.38" fill="#808080"/>
<rect x="26.67" y="26.67" width="3.38" height="3.38" fill="#000000"/>
<rect x="36.67" y="26.67" width="6.72" height="3.38" fill="#000000"/>
<rect x="43.33" y="26.67" width="3.38" height="3.38" fill="#dfdfdf"/>
<rect x="46.67" y="26.67" width="3.38" height="3.38" fill="#000000"/>
<rect x="56.67" y="26.67" width="3.38" height="3.38" fill="#202020"/>
<rect x="60.00" y="26.67" width="3.38" height="3.38" fill="#000000"/>
<rect x="63.33" y="26.67" width="3.38" height="3.38" fill="#dfdfdf"/>
<rect x="66.67" y="26.67" width="3.38" height="3.38" fill="#000000"/>
<rect x="70.00" y="26.67" width="3.38" height="3.38" fill="#202020"/>
<rect x="80.00" y="26.67" width="3.38" height="3.38" fill="#000000"/>
<rect x="3.33" y="30.00" width="3.38" height="3.38" fill="#dfdfdf"/>
<rect x="6.67" y="30.00" width="3.38" height="3.38" fill="#000000"/>
<rect x="16.67" y="30.00" width="3.38" height="3.38" fill="#000000"/>
<rect x="26.67" y="30.00" width="3.38" height="3.38" fill="#000000"/>
<rect x="36.67" y="30.00" width="6.72" height="3.38" fill="#000000"/>
<rect x="46.67" y="30.00" width="6.72" height="3.38" fill="#000000"/>
<rect x="56.67" y="30.00" width="6.72" height="3.38" fill="#000000"/>
<rect x="66.67" y="30.00" width="6.72" height="3.38" fill="#000000"/>
<rect x="76.67" y="30.00" width="6.72" height="3.38" fill="#000000"/>
<rect x="10.00" y="33.33" width="6.72" height="3.38" fill="#000000"/>
<rect x="30.00" y="33.33" width="6.72" height="3.38" fill="#000000"/>
<rect x="50.00" y="33.33" width="3.38" height="3.38" fill="#dfdfdf"/>
<rect x="53.33" y="33.33" width="3.38" height="3.38" fill="#000000"/>
<rect x="73.33" y="33.33" width="3.38" height="3.38" fill="#000000"/>
<rect x="76.67" y="33.33" width="3.38" height="3.38" fill="#dfdfdf"/>
<rect x="6.67" y="36.67" width="13.38" height="3.38" fill="#000000"/>
<rect x="26.67" y="36.67" width="13.38" height="3.38" fill="#000000"/>
<rect x="46.67" y="36.67" width="3.38" height="3.38" fill="#606060"/>
<rect x="50.00" y="36.67" width="10.05" height="3.38" fill="#000000"/>
<rect x="70.00" y="36.67" width="13.38" height="3.38" fill="#000000"/>
<rect x="3.33" y="40.00" width="3.38" height="3.38" fill="#dfdfdf"/>
<rect x="6.67" y="40.00" width="3.38" height="3.38" fill="#000000"/>
<rect x="16.67" y="40.00" width="3.38" height="3.38" fill="#000000"/>
<rect x="26.67" y="40.00" width="3.38" height="3.38" fill="#000000"/>
<rect x="36.67" y="40.00" width="6.72" height="3.38" fill="#000000"/>
<rect x="46.67" y="40.00" width="6.72" height="3.38" fill="#000000"/>
<rect x="56.67" y="40.00" width="6.72" height="3.38" fill="#000000"/>
<rect x="66.67" y="40.00" width="6.72" height="3.38" fill="#000000"/>
<rect x="76.67" y="40.00" width="6.72" height="3.38" fill="#000000"/>
<rect x="0.00" y="43.33" width="6.72" height="3.38" fill="#000000"/>
<rect x="20.00" y="43.33" width="6.72" height="3.38" fill="#000000"/>
<rect x="40.00" y="43.33" width="6.72" height="3.38" fill="#000000"/>
<rect x="63.33" y="43.33" width="3.38" height="3.38" fill="#000000"/>
<rect x="0.00" y="46.67" width="6.72" height="3.38" fill="#000000"/>
<rect x="20.00" y="46.67" width="6.72" height="3.38" fill="#000000"/>
<rect x="40.00" y="46.67" width="6.72" height="3.38" fill="#000000"/>
<rect x="60.00" y="46.67" width="3.38" height="3.38" fill="#dfdfdf"/>
<rect x="63.33" y="46.67" width="3.38" height="3.38" fill="#000000"/>
<rect x="66.67" y="46.67" width="3.38" height="3.38" fill="#808080"/>
<rect x="3.33" y="50.00" width="3.38" height="3.38" fill="#dfdfdf"/>
<rect x="6.67" y="50.00" width="3.38" height="3.38" fill="#000000"/>
<rect x="16.67" y="50.00" width="3.38" height="3.38" fill="#000000"/>
<rect x="26.67" y="50.00" width="3.38" height="3.38" fill="#000000"/>
<rect x="36.67" y="50.00" width="6.72" height="3.38" fill="#000000"/>
<rect x="46.67" y="50.00" width="6.72" height="3.38" fill="#000000"/>
<rect x="56.67" y="50.00" width="6.72" height="3.38" fill="#000000"/>
<rect x="66.67" y="50.00" width="6.72" height="3.38" fill="#000000"/>
<rect x="76.67" y="50.00" width="6.72" height="3.38" fill="#000000"/>
<rect x="10.00" y="53.33" width="6.72" height="3.38" fill="#000000"/>
<rect x="30.00" y="53.33" width="6.72" height="3.38" fill="#000000"/>
<rect x="50.00" y="53.33" width="3.38" height="3.38" fill="#606060"/>
<rect x="53.33" y="53.33" width="3.38" height="3.38" fill="#000000"/>
<rect x="73.33" y="53.33" width="3.38" height="3.38" fill="#000000"/>
<rect x="76.67" y="53.33" width="3.38" height="3.38" fill="#606060"/>
<rect x="10.00" y="56.67" width="6.72" height="3.38" fill="#000000"/>
<rect x="30.00" y="56.67" width="6.72" height="3.38" fill="#000000"/>
<rect x="50.00" y="56.67" width="3.38" height="3.38" fill="#606060"/>
<rect x="53.33" y="56.67" width="3.38" height="3.38" fill="#000000"/>
<rect x="73.33" y="56.67" width="3.38" height="3.38" fill="#000000"/>
<rect x="76.67" y="56.67" width="3.38" height="3.38" fill="#606060"/>
<rect x="3.33" y="60.00" width="3.38" height="3.38" fill="#dfdfdf"/>
<rect x="6.67" y="60.00" width="3.38" height="3.38" fill="#000000"/>
<rect x="16.67" y="60.00" width="3.38" height="3.38" fill="#000000"/>
<rect x="26.67" y="60.00" width="3.38" height="3.38" fill="#000000"/>
<rect x="36.67" y="60.00" width="6.72" height="3.38" fill="#000000"/>
<rect x="46.67" y="60.00" width="6.72" height="3.38" fill="#000000"/>
<rect x="56.67" y="60.00" width="6.72" height="3.38" fill="#000000"/>
<rect x="66.67" y="60.00" width="6.72" height="3.38" fill="#000000"/>
<rect x="76.67" y="60.00" width="6.72" height="3.38" fill="#000000"/>
<rect x="0.00" y="63.33" width="6.72" height="3.38" fill="#000000"/>
<rect x="20.00" y="63.33" width="6.72" height="3.38" fill="#000000"/>
<rect x="40.00" y="63.33" width="6.72" height="3.38" fill="#000000"/>
<rect x="60.00" y="63.33" width="3.38" height="3.38" fill="#dfdfdf"/>
<rect x="63.33" y="63.33" width="3.38" height="3.38" fill="#000000"/>
<rect x="66.67" y="63.33" width="3.38" height="3.38" fill="#808080"/>
<rect x="0.00" y="66.67" width="6.72" height="3.38" fill="#000000"/>
<rect x="20.00" y="66.67" width="6.72" height="3.38" fill="#000000"/>
<rect x="40.00" y="66.67" width="6.72" height="3.38" fill="#000000"/>
<rect x="63.33" y="66.67" width="3.38" height="3.38" fill="#000000"/>
<rect x="3.33" y="70.00" width="3.38" height="3.38" fill="#dfdfdf"/>
<rect x="6.67" y="70.00" width="3.38" height="3.38" fill="#000000"/>
<rect x="16.67" y="70.00" width="3.38" height="3.38" fill="#000000"/>
<rect x="26.67" y="70.00" width="3.38" height="3.38" fill="#000000"/>
<rect x="36.67" y="70.00" width="6.72" height="3.38" fill="#000000"/>
<rect x="46.67" y="70.00" width="6.72" height="3.38" fill="#000000"/>
<rect x="56.67" y="70.00" width="6.72" height="3.38" fill="#000000"/>
<rect x="66.67" y="70.00" width="6.72" height="3.38" fill="#000000"/>
<rect x="76.67" y="70.00" width="6.72" height="3.38" fill="#000000"/>
<rect x="6.67" y="73.33" width="13.38" height="3.38" fill="#000000"/>
<rect x="26.67" y="73.33" width="13.38" height="3.38" fill="#000000"/>
<rect x="46.67" y="73.33" width="3.38" height="3.38" fill="#606060"/>
<rect x="50.00" y="73.33" width="10.05" height="3.38" fill="#000000"/>
<rect x="70.00" y="73.33" width="13.38" height="3.38" fill="#000000"/>
<rect x="10.00" y="76.67" width="6.72" height="3.38" fill="#000000"/>
<rect x="30.00" y="76.67" width="6.72" height="3.38" fill="#000000"/>
<rect x="50.00" y="76.67" width="3.38" height="3.38" fill="#dfdfdf"/>
<rect x="53.33" y="76.67" width="3.38" height="3.38" fill="#000000"/>
<rect x="73.33" y="76.67" width="3.38" height="3.38" fill="#000000"/>
<rect x="76.67" y="76.67" width="3.38" height="3.38" fill="#dfdfdf"/>
<rect x="3.33" y="80.00" width="3.38" height="3.38" fill="#dfdfdf"/>
<rect x="6.67" y="80.00" width="3.38" height="3.38" fill="#000000"/>
<rect x="16.67" y="80.00" width="3.38" height="3.38" fill="#000000"/>
<rect x="26.67" y="80.00" width="3.38" height="3.38" fill="#000000"/>
<rect x="36.67" y="80.00" width="6.72" height="3.38" fill="#000000"/>
<rect x="46.67" y="80.00" width="6.72" height="3.38" fill="#000000"/>
<rect x="56.67" y="80.00" width="6.72" height="3.38" fill="#000000"/>
<rect x="66.67" y="80.00" width="6.72" height="3.38" fill="#000000"/>
<rect x="76.67" y="80.00" width="6.72" height="3.38" fill="#000000"/>
</g></pattern>
<filter id="bl" x="-2%" y="-2%" width="104%" height="104%"><feGaussianBlur stdDeviation="0.5"/></filter>
</defs>
<rect width="1341" height="1240" fill="#fff"/>
<g filter="url(#bl)">
<rect x="322.00" y="892.50" width="51.75" height="65.00" fill="#000"/>
<rect x="328.75" y="899.25" width="38.25" height="58.25" fill="url(#pr)"/>
<rect x="332.00" y="892.50" width="31.75" height="8.75" fill="#595959"/>
<rect x="367.00" y="809.25" width="51.50" height="148.25" fill="#000"/>
<rect x="373.75" y="816.00" width="38.00" height="141.50" fill="url(#pp)"/>
<rect x="377.50" y="781.25" width="30.75" height="6.75" fill="#595959"/>
<rect x="391.25" y="788.00" width="6.75" height="52.00" fill="#595959"/>
<rect x="377.50" y="840.00" width="30.75" height="6.75" fill="#595959"/>
<rect x="411.75" y="746.75" width="52.00" height="210.75" fill="#000"/>
<rect x="418.50" y="753.50" width="38.50" height="204.00" fill="url(#pt)"/>
<rect x="422.00" y="746.75" width="31.00" height="9.50" fill="#595959"/>
<rect x="526.25" y="892.50" width="51.75" height="65.00" fill="#000"/>
<rect x="533.00" y="899.25" width="38.25" height="58.25" fill="url(#pr)"/>
<rect x="536.25" y="892.50" width="31.75" height="8.75" fill="#595959"/>
<rect x="571.25" y="442.00" width="51.75" height="515.50" fill="#000"/>
<rect x="578.00" y="448.75" width="38.25" height="508.75" fill="url(#pp)"/>
<rect x="581.50" y="438.60" width="31.40" height="6.70" fill="#595959"/>
<rect x="592.00" y="445.30" width="6.90" height="3.70" fill="#595959"/>
<rect x="581.50" y="449.00" width="31.40" height="6.50" fill="#595959"/>
<rect x="616.25" y="379.50" width="51.75" height="578.00" fill="#000"/>
<rect x="623.00" y="386.25" width="38.25" height="571.25" fill="url(#pt)"/>
<rect x="626.75" y="376.25" width="31.25" height="10.00" fill="#595959"/>
<rect x="727.50" y="843.75" width="51.75" height="113.75" fill="#000"/>
<rect x="734.25" y="850.50" width="38.25" height="107.00" fill="url(#pr)"/>
<rect x="738.00" y="843.75" width="31.50" height="9.25" fill="#595959"/>
<rect x="772.50" y="442.50" width="51.75" height="515.00" fill="#000"/>
<rect x="779.25" y="449.25" width="38.25" height="508.25" fill="url(#pp)"/>
<rect x="782.50" y="442.50" width="35.00" height="8.50" fill="#595959"/>
<rect x="817.50" y="331.25" width="51.50" height="626.25" fill="#000"/>
<rect x="824.25" y="338.00" width="38.00" height="619.50" fill="url(#pt)"/>
<rect x="828.00" y="289.50" width="34.50" height="7.25" fill="#595959"/>
<rect x="841.75" y="296.75" width="7.50" height="75.75" fill="#595959"/>
<rect x="828.00" y="372.50" width="34.50" height="6.75" fill="#595959"/>
<rect x="932.00" y="833.25" width="51.75" height="124.25" fill="#000"/>
<rect x="938.75" y="840.00" width="38.25" height="117.50" fill="url(#pr)"/>
<rect x="942.00" y="798.75" width="31.00" height="6.75" fill="#595959"/>
<rect x="953.00" y="805.50" width="7.00" height="65.75" fill="#595959"/>
<rect x="942.00" y="871.25" width="31.00" height="6.75" fill="#595959"/>
<rect x="977.00" y="404.25" width="52.00" height="553.25" fill="#000"/>
<rect x="983.75" y="411.00" width="38.50" height="546.50" fill="url(#pp)"/>
<rect x="987.50" y="397.50" width="30.50" height="6.25" fill="#595959"/>
<rect x="998.25" y="403.75" width="6.25" height="6.75" fill="#595959"/>
<rect x="987.50" y="410.50" width="30.50" height="7.00" fill="#595959"/>
<rect x="1022.25" y="279.25" width="51.25" height="678.25" fill="#000"/>
<rect x="1029.00" y="286.00" width="37.75" height="671.50" fill="url(#pt)"/>
<rect x="1032.25" y="238.00" width="31.25" height="7.00" fill="#595959"/>
<rect x="1042.75" y="245.00" width="7.50" height="75.75" fill="#595959"/>
<rect x="1029.00" y="320.75" width="34.50" height="6.75" fill="#595959"/>
<rect x="1136.00" y="861.25" width="51.75" height="96.25" fill="#000"/>
<rect x="1142.75" y="868.00" width="38.25" height="89.50" fill="url(#pr)"/>
<rect x="1143.00" y="812.50" width="34.75" height="7.00" fill="#595959"/>
<rect x="1156.75" y="819.50" width="7.50" height="89.75" fill="#595959"/>
<rect x="1143.00" y="909.25" width="34.75" height="6.25" fill="#595959"/>
<rect x="1181.00" y="452.50" width="51.75" height="505.00" fill="#000"/>
<rect x="1187.75" y="459.25" width="38.25" height="498.25" fill="url(#pp)"/>
<rect x="1188.00" y="445.75" width="34.25" height="6.75" fill="#595959"/>
<rect x="1201.50" y="452.50" width="7.00" height="3.25" fill="#595959"/>
<rect x="1188.00" y="455.75" width="34.25" height="6.75" fill="#595959"/>
<rect x="1226.00" y="355.75" width="52.00" height="601.75" fill="#000"/>
<rect x="1232.75" y="362.50" width="38.50" height="595.00" fill="url(#pt)"/>
<rect x="1233.00" y="303.25" width="34.75" height="7.25" fill="#595959"/>
<rect x="1247.25" y="310.50" width="7.00" height="100.75" fill="#595959"/>
<rect x="1233.00" y="411.25" width="34.75" height="6.25" fill="#595959"/>
<rect x="287.00" y="210.00" width="6.75" height="754.50" fill="#bfbfbf"/>
<rect x="287.00" y="957.50" width="1019.00" height="7.00" fill="#bfbfbf"/>
<text x="125.00" y="226.00" font-size="65.46" textLength="104.73" lengthAdjust="spacingAndGlyphs">100</text>
<text x="158.00" y="378.00" font-size="64.18" textLength="65.85" lengthAdjust="spacingAndGlyphs">80</text>
<text x="158.00" y="528.00" font-size="68.21" textLength="65.85" lengthAdjust="spacingAndGlyphs">60</text>
<text x="159.00" y="680.00" font-size="65.46" textLength="64.85" lengthAdjust="spacingAndGlyphs">40</text>
<text x="158.00" y="829.00" font-size="66.79" textLength="65.85" lengthAdjust="spacingAndGlyphs">20</text>
<text x="192.00" y="981.00" font-size="68.05" textLength="38.13" lengthAdjust="spacingAndGlyphs">0</text>
<text x="375.60" y="1074.60" font-size="67.65" textLength="37.80" lengthAdjust="spacingAndGlyphs">6</text>
<text x="556.80" y="1074.60" font-size="67.65" textLength="82.96" lengthAdjust="spacingAndGlyphs">6.5</text>
<text x="781.20" y="1074.00" font-size="65.61" textLength="38.07" lengthAdjust="spacingAndGlyphs">7</text>
<text x="960.20" y="1074.60" font-size="66.55" textLength="85.40" lengthAdjust="spacingAndGlyphs">7.5</text>
<text x="1187.00" y="1074.60" font-size="67.65" textLength="36.45" lengthAdjust="spacingAndGlyphs">8</text>
<text x="745.00" y="1194.80" font-size="80.74" textLength="107.17" lengthAdjust="spacingAndGlyphs">pH</text>
<text transform="translate(85.00,714.00) rotate(-90)" x="0" y="0" font-size="72.12" textLength="256.83" lengthAdjust="spacingAndGlyphs">Yield %</text>
<text x="418.20" y="70.00" font-size="68.05" textLength="138.32" lengthAdjust="spacingAndGlyphs">SCA</text>
<text x="667.40" y="70.00" font-size="68.05" textLength="132.42" lengthAdjust="spacingAndGlyphs">SCB</text>
<text x="906.40" y="70.20" font-size="64.87" textLength="143.28" lengthAdjust="spacingAndGlyphs">TOT</text>
<rect x="359.80" y="30.00" width="45.15" height="44.80" fill="#000"/><rect x="366.75" y="37.00" width="31.40" height="31.05" fill="url(#pr)"/>
<rect x="609.20" y="30.00" width="45.00" height="44.80" fill="#000"/><rect x="616.15" y="37.00" width="31.25" height="31.05" fill="url(#pp)"/>
<rect x="848.20" y="30.00" width="48.70" height="44.80" fill="#000"/><rect x="855.15" y="37.00" width="34.95" height="31.05" fill="url(#pt)"/>
</g></svg></body></html>
